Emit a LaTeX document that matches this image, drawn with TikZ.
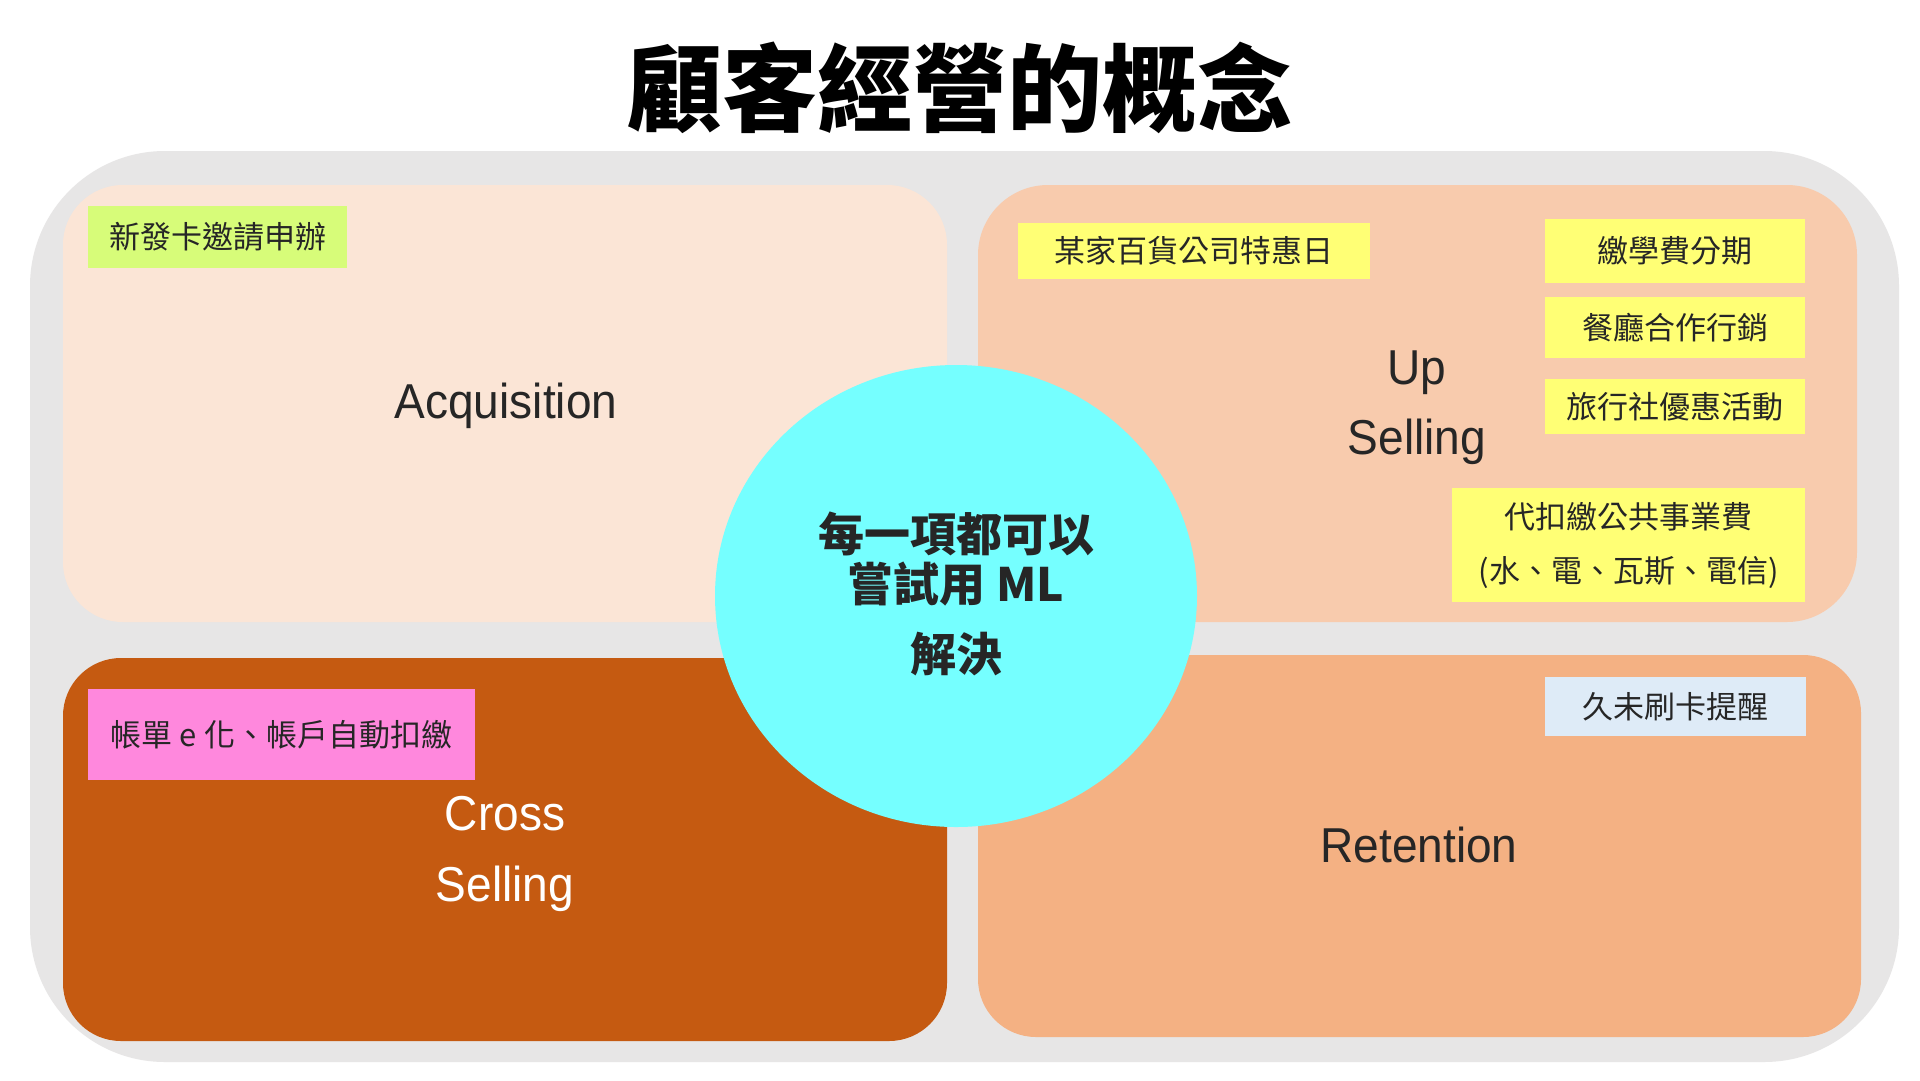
\documentclass[tikz,border=0pt]{standalone}
\usepackage{fontspec}
\setmainfont{Liberation Sans}
\newfontfamily\cjk{Noto Sans CJK TC}
\newfontfamily\lab[FakeStretch=0.94]{Liberation Sans}
\definecolor{bggray}{HTML}{E7E6E6}
\definecolor{acqc}{HTML}{FBE5D6}
\definecolor{upsc}{HTML}{F8CBAD}
\definecolor{crsc}{HTML}{C55A11}
\definecolor{retc}{HTML}{F4B183}
\definecolor{mlc}{HTML}{75FFFF}
\definecolor{tlime}{HTML}{D7FC79}
\definecolor{tyel}{HTML}{FFFF75}
\definecolor{tpink}{HTML}{FF88DD}
\definecolor{tblue}{HTML}{DEEBF7}
\definecolor{ink}{HTML}{262626}
\tikzset{
  tag/.style={inner sep=0pt, text=ink, font=\cjk\fontsize{31}{31}\selectfont},
  biglabel/.style={anchor=base, text=ink, font=\lab\fontsize{49}{49}\selectfont},
}
\begin{document}
\begin{tikzpicture}[x=1pt,y=-1pt]
\useasboundingbox (0,0) rectangle (1920,1080);
\fill[white] (0,0) rectangle (1920,1080);
% title
\node[font=\cjk\bfseries\fontsize{95}{95}\selectfont, text=black] (title) at (960,88) {顧客經營的概念};
% background
\fill[bggray, rounded corners=135pt] (30,151) rectangle (1899,1062);
% quadrants
\fill[acqc, rounded corners=60pt] (63,185) rectangle (947,622);
\fill[upsc, rounded corners=70pt] (978,185) rectangle (1857,622);
\fill[crsc, rounded corners=58pt] (63,658) rectangle (947,1041);
\fill[retc, rounded corners=58pt] (978,655) rectangle (1861,1037);
% quadrant labels
\node[biglabel] (acq) at (506,418) {Acquisition};
\node[biglabel] (up1) at (1417,384) {Up};
\node[biglabel] (up2) at (1417,454) {Selling};
\node[biglabel, text=white] (cr1) at (505,830) {Cross};
\node[biglabel, text=white] (cr2) at (505,901) {Selling};
\node[biglabel] (ret) at (1419,862) {Retention};
% centre
\fill[mlc] (956,596) ellipse [x radius=241pt, y radius=231pt];
\node[align=center, text=ink, font=\cjk\bfseries\fontsize{46}{50}\selectfont] (ml) at (956,594) {每一項都可以\\嘗試用 ML\\[20pt]解決};
% tags
\node[tag, fill=tlime, minimum width=259pt, minimum height=62pt] (t1) at (217.5,237) {新發卡邀請申辦};
\node[tag, fill=tyel, minimum width=352pt, minimum height=56pt] (t2) at (1194,251) {某家百貨公司特惠日};
\node[tag, fill=tyel, minimum width=260pt, minimum height=64pt] (t3) at (1675,251) {繳學費分期};
\node[tag, fill=tyel, minimum width=260pt, minimum height=61pt] (t4) at (1675,327.5) {餐廳合作行銷};
\node[tag, fill=tyel, minimum width=260pt, minimum height=55pt] (t5) at (1675,406.5) {旅行社優惠活動};
\node[tag, fill=tyel, minimum width=353pt, minimum height=114pt, align=center, font=\cjk\fontsize{31}{54}\selectfont] (t6) at (1628.5,545) {代扣繳公共事業費\\(水、電、瓦斯、電信)};
\node[tag, fill=tblue, minimum width=261pt, minimum height=59pt] (t7) at (1675.5,706.5) {久未刷卡提醒};
\node[tag, fill=tpink, minimum width=387pt, minimum height=91pt] (t8) at (281.5,734.5) {帳單 e 化、帳戶自動扣繳};
\end{tikzpicture}
\end{document}
